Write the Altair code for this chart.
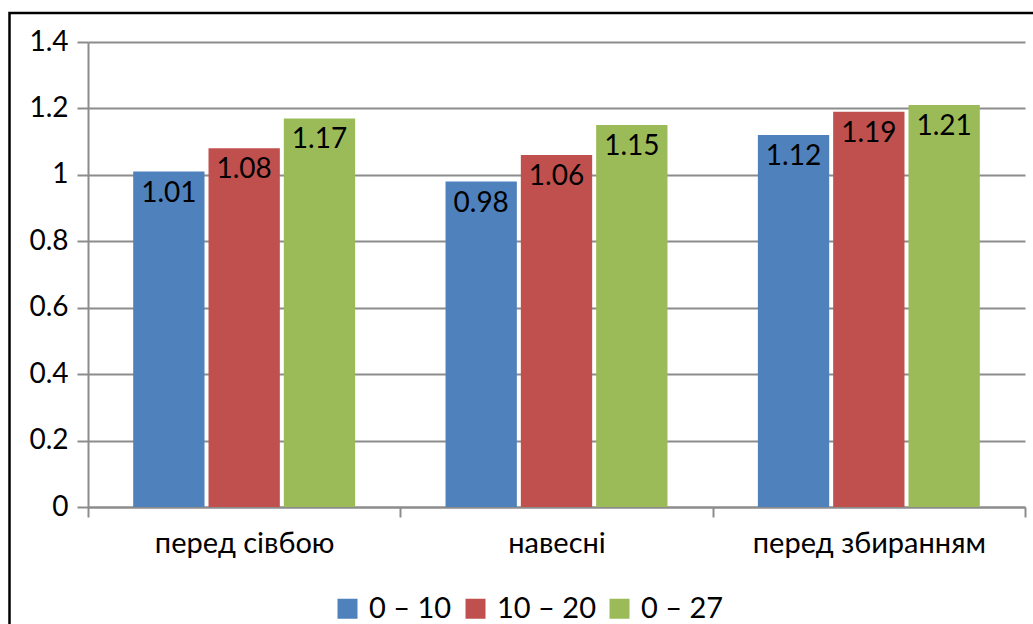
import altair as alt
import pandas as pd

# Soil measurements by period and depth layer
periods = ["перед сівбою", "навесні", "перед збиранням"]
series = ["0 – 10", "10 – 20", "0 – 27"]
values_0_10 = [1.01, 0.98, 1.12]
values_10_20 = [1.08, 1.06, 1.19]
values_0_27 = [1.17, 1.15, 1.21]
colors = ["#4F81BD", "#C0504D", "#9BBB59"]
y_ticks = [0, 0.2, 0.4, 0.6, 0.8, 1.0, 1.2, 1.4]

rows = []
for name, vals in zip(series, [values_0_10, values_10_20, values_0_27]):
    for p, v in zip(periods, vals):
        rows.append({"period": p, "series": name, "value": v, "label": f"{v:.2f}"})
df = pd.DataFrame(rows)

FONT = "Lato"
FS = 28
GRID = "#8c8c8c"
W, H = 937, 465

x_enc = alt.X(
    "period:N",
    sort=periods,
    scale=alt.Scale(paddingInner=0, paddingOuter=0),
    axis=alt.Axis(
        title=None,
        labelAngle=0,
        labelLimit=0,
        tickBand="extent",
        tickSize=10,
        tickColor=GRID,
        tickWidth=2,
        domainColor=GRID,
        domainWidth=2,
        labelFont=FONT,
        labelFontSize=29,
        labelColor="black",
        labelPadding=12,
    ),
)
xo_enc = alt.XOffset(
    "series:N", sort=series, scale=alt.Scale(paddingInner=0.053, paddingOuter=0.6)
)
y_enc = alt.Y(
    "value:Q",
    scale=alt.Scale(domain=[0, 1.4], nice=False),
    axis=alt.Axis(
        title=None,
        values=y_ticks,
        format="~g",
        tickSize=11,
        tickColor=GRID,
        tickWidth=2,
        domainColor=GRID,
        domainWidth=2,
        gridColor=GRID,
        gridWidth=2,
        labelFont=FONT,
        labelFontSize=FS,
        labelColor="black",
        labelPadding=9,
    ),
)

base = alt.Chart(df)

bars = base.mark_bar().encode(
    x=x_enc,
    xOffset=xo_enc,
    y=y_enc,
    color=alt.Color(
        "series:N",
        sort=series,
        scale=alt.Scale(domain=series, range=colors),
        legend=alt.Legend(
            title=None,
            orient="none",
            direction="horizontal",
            legendX=245,
            legendY=552,
            symbolType="square",
            symbolSize=400,
            symbolStrokeWidth=0,
            symbolOpacity=1,
            labelFont=FONT,
            labelFontSize=29,
            labelColor="black",
            labelOffset=7,
            columnPadding=9,
            labelLimit=0,
        ),
    ),
)

labels = base.mark_text(
    baseline="top", dy=8, font=FONT, fontSize=FS, color="black"
).encode(
    x=alt.X("period:N", sort=periods),
    xOffset=alt.XOffset("series:N", sort=series),
    y=alt.Y("value:Q"),
    text="label:N",
)

# outer chart frame
frame = alt.Chart(pd.DataFrame({"k": [0]})).mark_rect(
    fill=None, stroke="black", strokeWidth=2.5
).encode(
    x=alt.value(-78.5), x2=alt.value(980), y=alt.value(-29), y2=alt.value(620)
)

chart = (
    alt.layer(bars, labels, frame)
    .properties(
        width=W,
        height=H,
        padding={"left": 88, "top": 42, "right": 8, "bottom": 117},
        autosize=alt.AutoSizeParams(type="none"),
        background="white",
    )
    .configure_view(stroke=None)
)

chart.save("out.html", embed_options={"renderer": "svg", "actions": False})
